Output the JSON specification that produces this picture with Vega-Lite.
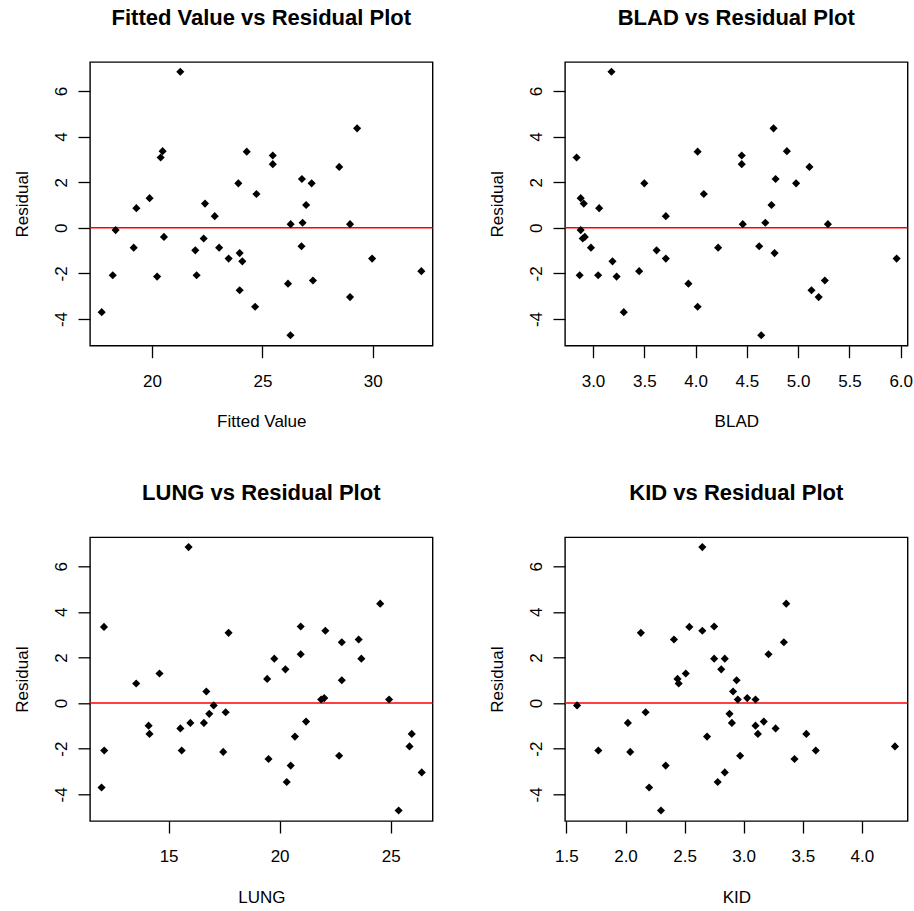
{
  "$schema": "https://vega.github.io/schema/vega-lite/v6.json",
  "background": "white",
  "padding": {"left": 12, "top": 6, "right": 0, "bottom": 0},
  "datasets": {
    "fitted": [
      {"x": 17.72, "r": -3.70}, {"x": 18.22, "r": -2.08}, {"x": 18.35, "r": -0.10}, {"x": 19.17, "r": -0.87},
      {"x": 19.29, "r": 0.86}, {"x": 19.89, "r": 1.30}, {"x": 20.23, "r": -2.14}, {"x": 20.39, "r": 3.08},
      {"x": 20.48, "r": 3.36}, {"x": 20.54, "r": -0.40}, {"x": 21.28, "r": 6.84}, {"x": 21.96, "r": -0.99},
      {"x": 22.02, "r": -2.08}, {"x": 22.34, "r": -0.47}, {"x": 22.40, "r": 1.06}, {"x": 22.84, "r": 0.51},
      {"x": 23.04, "r": -0.87}, {"x": 23.47, "r": -1.35}, {"x": 23.91, "r": 1.95}, {"x": 23.97, "r": -1.11},
      {"x": 23.97, "r": -2.74}, {"x": 24.09, "r": -1.47}, {"x": 24.29, "r": 3.34}, {"x": 24.67, "r": -3.46},
      {"x": 24.73, "r": 1.48}, {"x": 25.47, "r": 3.17}, {"x": 25.47, "r": 2.79}, {"x": 26.16, "r": -2.45},
      {"x": 26.27, "r": -4.71}, {"x": 26.28, "r": 0.16}, {"x": 26.77, "r": -0.81}, {"x": 26.79, "r": 2.14},
      {"x": 26.82, "r": 0.22}, {"x": 26.98, "r": 1.00}, {"x": 27.23, "r": 1.95}, {"x": 27.29, "r": -2.31},
      {"x": 28.48, "r": 2.67}, {"x": 28.97, "r": 0.16}, {"x": 28.97, "r": -3.04}, {"x": 29.29, "r": 4.36},
      {"x": 29.97, "r": -1.35}, {"x": 32.2, "r": -1.90}
    ],
    "blad": [
      {"x": 2.84, "r": 3.08}, {"x": 2.88, "r": 1.30}, {"x": 2.91, "r": 1.06}, {"x": 2.87, "r": -2.08},
      {"x": 2.88, "r": -0.10}, {"x": 2.90, "r": -0.47}, {"x": 2.92, "r": -0.40}, {"x": 2.98, "r": -0.87},
      {"x": 3.05, "r": -2.08}, {"x": 3.06, "r": 0.86}, {"x": 3.18, "r": 6.84}, {"x": 3.19, "r": -1.47},
      {"x": 3.23, "r": -2.14}, {"x": 3.30, "r": -3.70}, {"x": 3.45, "r": -1.90}, {"x": 3.50, "r": 1.95},
      {"x": 3.62, "r": -0.99}, {"x": 3.71, "r": 0.51}, {"x": 3.71, "r": -1.35}, {"x": 3.93, "r": -2.45},
      {"x": 4.02, "r": 3.34}, {"x": 4.02, "r": -3.46}, {"x": 4.08, "r": 1.48}, {"x": 4.22, "r": -0.87},
      {"x": 4.45, "r": 3.17}, {"x": 4.45, "r": 2.79}, {"x": 4.46, "r": 0.16}, {"x": 4.62, "r": -0.81},
      {"x": 4.64, "r": -4.71}, {"x": 4.68, "r": 0.22}, {"x": 4.74, "r": 1.00}, {"x": 4.76, "r": 4.36},
      {"x": 4.77, "r": -1.11}, {"x": 4.78, "r": 2.14}, {"x": 4.89, "r": 3.36}, {"x": 4.98, "r": 1.95},
      {"x": 5.11, "r": 2.67}, {"x": 5.13, "r": -2.74}, {"x": 5.20, "r": -3.04}, {"x": 5.26, "r": -2.31},
      {"x": 5.29, "r": 0.16}, {"x": 5.96, "r": -1.35}
    ],
    "lung": [
      {"x": 12.09, "r": 3.34}, {"x": 12.10, "r": -2.08}, {"x": 11.98, "r": -3.70}, {"x": 13.54, "r": 0.86},
      {"x": 14.10, "r": -0.99}, {"x": 14.14, "r": -1.35}, {"x": 14.59, "r": 1.30}, {"x": 15.53, "r": -1.11},
      {"x": 15.59, "r": -2.08}, {"x": 15.90, "r": 6.84}, {"x": 15.98, "r": -0.87}, {"x": 16.59, "r": -0.87},
      {"x": 16.70, "r": 0.51}, {"x": 16.83, "r": -0.47}, {"x": 17.03, "r": -0.10}, {"x": 17.57, "r": -0.40},
      {"x": 17.46, "r": -2.14}, {"x": 17.70, "r": 3.08}, {"x": 19.44, "r": 1.06}, {"x": 19.50, "r": -2.45},
      {"x": 19.76, "r": 1.95}, {"x": 20.26, "r": 1.48}, {"x": 20.32, "r": -3.46}, {"x": 20.50, "r": -2.74},
      {"x": 20.69, "r": -1.47}, {"x": 20.95, "r": 3.36}, {"x": 20.95, "r": 2.14}, {"x": 21.19, "r": -0.81},
      {"x": 21.87, "r": 0.16}, {"x": 22.01, "r": 0.22}, {"x": 22.06, "r": 3.17}, {"x": 22.68, "r": -2.31},
      {"x": 22.80, "r": 2.67}, {"x": 22.80, "r": 1.00}, {"x": 23.56, "r": 2.79}, {"x": 23.68, "r": 1.95},
      {"x": 24.53, "r": 4.36}, {"x": 24.93, "r": 0.16}, {"x": 25.36, "r": -4.71}, {"x": 25.95, "r": -1.35},
      {"x": 25.85, "r": -1.90}, {"x": 26.40, "r": -3.04}
    ],
    "kid": [
      {"x": 1.59, "r": -0.10}, {"x": 1.77, "r": -2.08}, {"x": 2.02, "r": -0.87}, {"x": 2.04, "r": -2.14},
      {"x": 2.13, "r": 3.08}, {"x": 2.17, "r": -0.40}, {"x": 2.20, "r": -3.70}, {"x": 2.30, "r": -4.71},
      {"x": 2.34, "r": -2.74}, {"x": 2.41, "r": 2.79}, {"x": 2.44, "r": 1.06}, {"x": 2.45, "r": 0.86},
      {"x": 2.51, "r": 1.30}, {"x": 2.54, "r": 3.34}, {"x": 2.65, "r": 6.84}, {"x": 2.65, "r": 3.17},
      {"x": 2.69, "r": -1.47}, {"x": 2.75, "r": 3.36}, {"x": 2.75, "r": 1.95}, {"x": 2.81, "r": 1.48},
      {"x": 2.78, "r": -3.46}, {"x": 2.84, "r": 1.95}, {"x": 2.84, "r": -3.04}, {"x": 2.88, "r": -0.47},
      {"x": 2.90, "r": -0.87}, {"x": 2.91, "r": 0.51}, {"x": 2.94, "r": 1.00}, {"x": 2.95, "r": 0.16},
      {"x": 2.97, "r": -2.31}, {"x": 3.03, "r": 0.22}, {"x": 3.10, "r": 0.16}, {"x": 3.10, "r": -0.99},
      {"x": 3.12, "r": -1.35}, {"x": 3.17, "r": -0.81}, {"x": 3.21, "r": 2.14}, {"x": 3.27, "r": -1.11},
      {"x": 3.34, "r": 2.67}, {"x": 3.36, "r": 4.36}, {"x": 3.43, "r": -2.45}, {"x": 3.53, "r": -1.35},
      {"x": 3.61, "r": -2.08}, {"x": 4.28, "r": -1.90}
    ]
  },
  "columns": 2,
  "spacing": {"row": 191.3, "column": 132},
  "bounds": "flush",
  "concat": [
    {
      "title": {"text": "Fitted Value vs Residual Plot"},
      "width": 342.6, "height": 283.7,
      "layer": [
        {"data": {"values": [{}]}, "mark": {"type": "rule", "color": "#FF0000", "strokeWidth": 1.5}, "encoding": {"y": {"datum": 0}}},
        {
          "data": {"name": "fitted"},
          "mark": {"type": "point", "shape": "diamond", "filled": true, "color": "black", "size": 66, "opacity": 1},
          "encoding": {
            "x": {"field": "x", "type": "quantitative", "scale": {"domain": [17.19, 32.71], "nice": false, "zero": false}, "axis": {"title": "Fitted Value", "values": [20, 25, 30]}},
            "y": {"field": "r", "type": "quantitative", "scale": {"domain": [-5.17, 7.27], "nice": false, "zero": false}, "axis": {"title": "Residual", "values": [-4, -2, 0, 2, 4, 6]}}
          }
        }
      ]
    },
    {
      "title": {"text": "BLAD vs Residual Plot"},
      "width": 342.6, "height": 283.7,
      "layer": [
        {"data": {"values": [{}]}, "mark": {"type": "rule", "color": "#FF0000", "strokeWidth": 1.5}, "encoding": {"y": {"datum": 0}}},
        {
          "data": {"name": "blad"},
          "mark": {"type": "point", "shape": "diamond", "filled": true, "color": "black", "size": 66, "opacity": 1},
          "encoding": {
            "x": {"field": "x", "type": "quantitative", "scale": {"domain": [2.727, 6.067], "nice": false, "zero": false}, "axis": {"title": "BLAD", "values": [3, 3.5, 4, 4.5, 5, 5.5, 6], "format": ".1f"}},
            "y": {"field": "r", "type": "quantitative", "scale": {"domain": [-5.17, 7.27], "nice": false, "zero": false}, "axis": {"title": "Residual", "values": [-4, -2, 0, 2, 4, 6]}}
          }
        }
      ]
    },
    {
      "title": {"text": "LUNG vs Residual Plot"},
      "width": 342.6, "height": 283.7,
      "layer": [
        {"data": {"values": [{}]}, "mark": {"type": "rule", "color": "#FF0000", "strokeWidth": 1.5}, "encoding": {"y": {"datum": 0}}},
        {
          "data": {"name": "lung"},
          "mark": {"type": "point", "shape": "diamond", "filled": true, "color": "black", "size": 66, "opacity": 1},
          "encoding": {
            "x": {"field": "x", "type": "quantitative", "scale": {"domain": [11.46, 26.89], "nice": false, "zero": false}, "axis": {"title": "LUNG", "values": [15, 20, 25]}},
            "y": {"field": "r", "type": "quantitative", "scale": {"domain": [-5.17, 7.27], "nice": false, "zero": false}, "axis": {"title": "Residual", "values": [-4, -2, 0, 2, 4, 6]}}
          }
        }
      ]
    },
    {
      "title": {"text": "KID vs Residual Plot"},
      "width": 342.6, "height": 283.7,
      "layer": [
        {"data": {"values": [{}]}, "mark": {"type": "rule", "color": "#FF0000", "strokeWidth": 1.5}, "encoding": {"y": {"datum": 0}}},
        {
          "data": {"name": "kid"},
          "mark": {"type": "point", "shape": "diamond", "filled": true, "color": "black", "size": 66, "opacity": 1},
          "encoding": {
            "x": {"field": "x", "type": "quantitative", "scale": {"domain": [1.488, 4.387], "nice": false, "zero": false}, "axis": {"title": "KID", "values": [1.5, 2, 2.5, 3, 3.5, 4], "format": ".1f"}},
            "y": {"field": "r", "type": "quantitative", "scale": {"domain": [-5.17, 7.27], "nice": false, "zero": false}, "axis": {"title": "Residual", "values": [-4, -2, 0, 2, 4, 6]}}
          }
        }
      ]
    }
  ],
  "config": {
    "locale": {"number": {"decimal": ".", "thousands": ",", "grouping": [3], "currency": ["$", ""], "minus": "-"}},
    "view": {"stroke": "black", "strokeWidth": 1.4, "fill": "white"},
    "title": {"font": "Liberation Sans", "fontSize": 22, "fontWeight": "bold", "color": "black", "anchor": "middle", "frame": "group", "baseline": "alphabetic", "offset": 32},
    "axis": {
      "domain": false, "grid": false, "ticks": true, "tickColor": "black", "tickSize": 12, "tickWidth": 1.3,
      "labelColor": "black", "labelFont": "Liberation Sans", "labelFontSize": 17, "labelFlush": false, "labelOverlap": false,
      "titleColor": "black", "titleFont": "Liberation Sans", "titleFontSize": 17, "titleFontWeight": "normal"
    },
    "axisX": {"labelBaseline": "middle", "labelPadding": 23.7, "titleY": 76, "titleBaseline": "middle"},
    "axisY": {"labelAngle": -90, "labelAlign": "center", "labelBaseline": "middle", "labelPadding": 17, "titleX": -68, "titleAngle": -90, "titleAlign": "center", "titleBaseline": "middle"}
  }
}
